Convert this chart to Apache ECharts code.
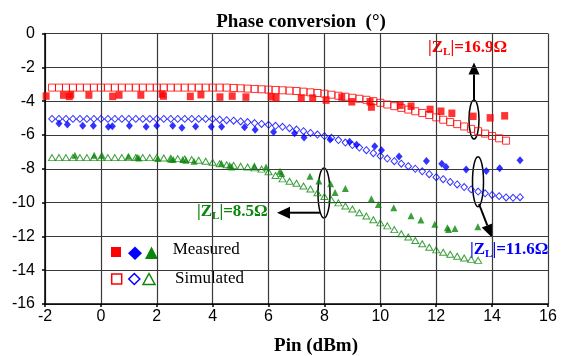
<!DOCTYPE html>
<html>
<head>
<meta charset="utf-8">
<script src="https://cdn.jsdelivr.net/npm/echarts@6/dist/echarts.min.js"></script>
<style>html,body{margin:0;padding:0;background:#fff}#c{width:564px;height:356px}</style>
</head>
<body>
<div id="c"></div>
<script>
// ---- data ----
var xTicks = [-2, 0, 2, 4, 6, 8, 10, 12, 14, 16];
var yTicks = [0, -2, -4, -6, -8, -10, -12, -14, -16];

var simX = [-1.75,-1.5,-1.25,-1,-0.75,-0.5,-0.25,0,0.25,0.5,0.75,1,1.25,1.5,1.75,2,2.25,2.5,2.75,3,3.25,3.5,3.75,4,
  4.25,4.5,4.75,5,5.25,5.5,5.75,6,6.25,6.5,6.75,7,7.25,7.5,7.75,8,8.25,8.5,8.75,9,9.25,9.5,9.75,10,10.25,10.5,10.75,
  11,11.25,11.5,11.75,12,12.25,12.5,12.75,13,13.25,13.5,13.75,14,14.25,14.5,14.75,15];

var simRed = [-3.2,-3.2,-3.2,-3.2,-3.2,-3.2,-3.2,-3.2,-3.2,-3.2,-3.2,-3.2,-3.2,-3.2,-3.2,-3.2,-3.2,-3.2,-3.2,-3.2,-3.2,-3.2,-3.2,-3.2,
  -3.2,-3.2,-3.22,-3.24,-3.26,-3.28,-3.3,-3.32,-3.34,-3.36,-3.38,-3.4,-3.44,-3.48,-3.52,-3.56,-3.62,-3.68,-3.74,-3.8,-3.86,-3.92,-4.0,
  -4.1,-4.2,-4.3,-4.4,-4.5,-4.6,-4.7,-4.82,-4.96,-5.1,-5.24,-5.36,-5.5,-5.64,-5.78,-5.92,-6.06,-6.2,-6.34];

var simBlue = [-5.05,-5.05,-5.05,-5.05,-5.05,-5.05,-5.05,-5.05,-5.05,-5.05,-5.05,-5.05,-5.05,-5.05,-5.05,-5.05,-5.05,-5.05,-5.05,-5.05,-5.05,-5.05,-5.05,-5.05,
  -5.1,-5.13,-5.16,-5.2,-5.24,-5.3,-5.35,-5.4,-5.46,-5.52,-5.6,-5.68,-5.78,-5.88,-5.98,-6.07,-6.17,-6.3,-6.45,-6.6,-6.75,-6.9,-7.08,
  -7.25,-7.4,-7.55,-7.7,-7.85,-8.0,-8.15,-8.32,-8.5,-8.62,-8.78,-8.93,-9.08,-9.22,-9.35,-9.45,-9.55,-9.62,-9.7,-9.72,-9.68];

var simGreen = [-7.34,-7.34,-7.34,-7.34,-7.34,-7.34,-7.34,-7.34,-7.34,-7.34,-7.34,-7.34,-7.34,-7.34,-7.34,-7.34,
  -7.36,-7.38,-7.4,-7.42,-7.46,-7.5,-7.56,-7.62,-7.7,-7.76,-7.8,-7.85,-7.9,-7.95,-8.02,-8.18,-8.4,-8.6,-8.74,-8.86,-9.02,-9.2,
  -9.42,-9.64,-9.84,-10.02,-10.2,-10.38,-10.6,-10.8,-11.02,-11.2,-11.38,-11.6,-11.84,-12.04,-12.24,-12.44,-12.64,-12.8,-12.94,
  -13.06,-13.18,-13.28,-13.36,-13.42];

var measRedX = [-1.96,-1.34,-1.13,-1.08,-0.43,0.42,0.65,1.43,2.19,2.24,3.2,3.58,4.26,4.7,5.19,6.09,6.27,7.17,7.58,8.06,8.62,8.98,9.63,9.68,10.71,11.1,11.78,12.17,12.56,13.32,13.93,14.45];
var measRedY = [-3.7,-3.64,-3.72,-3.62,-3.64,-3.72,-3.64,-3.64,-3.58,-3.7,-3.72,-3.62,-3.76,-3.7,-3.76,-3.74,-3.8,-3.82,-3.82,-3.94,-3.76,-4.04,-4.04,-4.35,-4.24,-4.3,-4.49,-4.6,-4.72,-4.9,-4.99,-4.87];

var measBlueX = [-1.5,-1.2,-0.65,-0.27,0.27,0.41,1.02,1.62,2.0,2.57,2.9,3.39,3.95,4.32,5.14,5.52,6.18,6.93,7.27,8.2,8.9,9.15,9.8,10.04,10.67,11.65,12.2,12.35,13.07,13.79,14.27,15.0];
var measBlueY = [-5.32,-5.38,-5.46,-5.46,-5.52,-5.48,-5.46,-5.52,-5.46,-5.46,-5.58,-5.5,-5.52,-5.52,-5.54,-5.7,-5.82,-5.9,-6.15,-6.27,-6.41,-6.58,-6.67,-6.9,-7.28,-7.54,-7.71,-7.89,-8.05,-8.14,-7.97,-7.5];

var measGreenX = [-0.93,-0.24,0.04,0.98,1.3,1.36,2.03,2.5,2.59,2.93,3.04,3.33,4.31,4.61,4.68,5.49,5.91,6.41,6.47,7.48,7.8,8.22,8.38,8.75,9.68,9.93,10.48,11.1,11.45,11.95,12.4,12.44,12.67,13.49];
var measGreenY = [-7.2,-7.2,-7.2,-7.26,-7.32,-7.36,-7.4,-7.44,-7.46,-7.46,-7.5,-7.56,-7.68,-7.79,-7.89,-7.82,-7.89,-8.15,-8.28,-8.44,-8.72,-8.88,-9.4,-9.17,-9.77,-10.11,-10.31,-10.78,-11.03,-11.29,-11.49,-11.6,-11.54,-11.43];

// ---- build ----
function zip(xs, ys) { var out = []; for (var i = 0; i < ys.length; i++) out.push([xs[i], ys[i]]); return out; }

var RED = '#ff0000', BLUE = '#0000ff', GREEN = '#0a870a';
var SERIF = '"Liberation Serif", "Times New Roman", serif';
var SANS = '"Liberation Sans", Arial, sans-serif';

function openStyle(c) { return { color: 'transparent', borderColor: c, borderWidth: 1 }; }

function arrow(x1, y1, x2, y2, color, hl, hw) {
  var dx = x2 - x1, dy = y2 - y1, L = Math.sqrt(dx * dx + dy * dy);
  var ux = dx / L, uy = dy / L, px = -uy, py = ux;
  var bx = x2 - ux * hl, by = y2 - uy * hl;
  return [
    { type: 'line', silent: true, shape: { x1: x1, y1: y1, x2: bx, y2: by }, style: { stroke: color, lineWidth: 2 } },
    { type: 'polygon', silent: true, shape: { points: [[x2, y2], [bx + px * hw, by + py * hw], [bx - px * hw, by - py * hw]] }, style: { fill: color } }
  ];
}

function zlabel(x, y, val, color) {
  return {
    type: 'text', silent: true, x: x, y: y,
    style: {
      text: '{a||Z}{s|L}{a||=' + val + 'Ω}',
      verticalAlign: 'middle', align: 'left',
      rich: {
        a: { fontFamily: SERIF, fontWeight: 'bold', fontSize: 17, lineHeight: 20, fill: color, color: color },
        s: { fontFamily: SERIF, fontWeight: 'bold', fontSize: 11, lineHeight: 11, verticalAlign: 'bottom', fill: color, color: color }
      }
    }
  };
}

function ellipse(cx, cy, rx, ry) {
  return { type: 'ellipse', silent: true, shape: { cx: cx, cy: cy, rx: rx, ry: ry }, style: { fill: 'none', stroke: '#000', lineWidth: 1.5 } };
}

var graphics = [];
graphics.push(ellipse(474, 119.5, 5, 19.5));
graphics = graphics.concat(arrow(474, 100, 474, 62.5, '#000', 12, 5.5));
graphics.push(zlabel(428, 48, '16.9', RED));
graphics.push(ellipse(478, 181.7, 5.5, 25));
graphics = graphics.concat(arrow(479, 204, 492, 237.5, '#000', 13, 6));
graphics.push(zlabel(470, 250, '11.6', BLUE));
graphics.push(ellipse(324, 193, 6, 25));
graphics = graphics.concat(arrow(320, 212.7, 277, 212.7, '#000', 13, 6));
graphics.push(zlabel(197, 212, '8.5', GREEN));
// legend
graphics.push({ type: 'rect', silent: true, shape: { x: 111, y: 247, width: 10, height: 10 }, style: { fill: RED } });
graphics.push({ type: 'polygon', silent: true, shape: { points: [[135, 246.5], [142, 253.3], [135, 260], [128, 253.3]] }, style: { fill: BLUE } });
graphics.push({ type: 'polygon', silent: true, shape: { points: [[151.5, 246.5], [158, 259], [145, 259]] }, style: { fill: GREEN } });
graphics.push({ type: 'rect', silent: true, shape: { x: 111.7, y: 274, width: 10, height: 10 }, style: { fill: 'none', stroke: RED, lineWidth: 1.5 } });
graphics.push({ type: 'polygon', silent: true, shape: { points: [[134.3, 273.5], [139.8, 279], [134.3, 284.5], [128.8, 279]] }, style: { fill: 'none', stroke: BLUE, lineWidth: 1.5 } });
graphics.push({ type: 'polygon', silent: true, shape: { points: [[149, 273.5], [155, 284.5], [143, 284.5]] }, style: { fill: 'none', stroke: GREEN, lineWidth: 1.5 } });
graphics.push({ type: 'text', silent: true, x: 172.7, y: 250, style: { text: 'Measured', font: '17px ' + SERIF, fill: '#000', verticalAlign: 'middle' } });
graphics.push({ type: 'text', silent: true, x: 175, y: 279, style: { text: 'Simulated', font: '17px ' + SERIF, fill: '#000', verticalAlign: 'middle' } });
// axis name
graphics.push({ type: 'text', silent: true, x: 316, y: 346, style: { text: 'Pin (dBm)', font: 'bold 19px ' + SERIF, fill: '#000', align: 'center', verticalAlign: 'middle' } });

var chart = echarts.init(document.getElementById('c'), null, { renderer: 'canvas' });
chart.setOption({
  animation: false,
  backgroundColor: '#fff',
  title: {
    text: 'Phase conversion  (°)', left: 296, top: 8, textAlign: 'center',
    textStyle: { fontFamily: SERIF, fontWeight: 'bold', fontSize: 19, color: '#000' }
  },
  grid: { left: 45, right: 16, top: 33.5, bottom: 52, containLabel: false, show: false },
  xAxis: {
    type: 'value', min: xTicks[0], max: xTicks[xTicks.length - 1], interval: 2,
    axisLine: { onZero: false, lineStyle: { color: '#000', width: 1.5 } },
    axisTick: { show: true, length: 3, lineStyle: { color: '#000', width: 1.5 } },
    axisLabel: { fontFamily: SANS, fontSize: 16, color: '#000', margin: 5, showMinLabel: true, showMaxLabel: true },
    splitLine: { show: true, lineStyle: { color: '#3a3a3a', width: 1.2 } }
  },
  yAxis: {
    type: 'value', min: yTicks[yTicks.length - 1], max: yTicks[0], interval: 2,
    axisLine: { onZero: false, lineStyle: { color: '#000', width: 1.5 } },
    axisTick: { show: true, length: 3, lineStyle: { color: '#000', width: 1.5 } },
    axisLabel: { fontFamily: SANS, fontSize: 16, color: '#000', margin: 10 },
    splitLine: { show: true, lineStyle: { color: '#3a3a3a', width: 1.2 } }
  },
  series: [
    { type: 'scatter', name: 'simRed', data: zip(simX, simRed), symbol: 'rect', symbolSize: [7, 7], itemStyle: openStyle(RED) },
    { type: 'scatter', name: 'simBlue', data: zip(simX, simBlue), symbol: 'diamond', symbolSize: [6.5, 7], itemStyle: openStyle(BLUE) },
    { type: 'scatter', name: 'simGreen', data: zip(simX, simGreen), symbol: 'triangle', symbolSize: [7, 6], itemStyle: openStyle(GREEN) },
    { type: 'scatter', name: 'measRed', data: zip(measRedX, measRedY), symbol: 'rect', symbolSize: [7, 7.5], itemStyle: { color: RED } },
    { type: 'scatter', name: 'measBlue', data: zip(measBlueX, measBlueY), symbol: 'diamond', symbolSize: [7, 8], itemStyle: { color: BLUE } },
    { type: 'scatter', name: 'measGreen', data: zip(measGreenX, measGreenY), symbol: 'triangle', symbolSize: [7, 7], itemStyle: { color: GREEN } }
  ],
  graphic: graphics
});
</script>
</body>
</html>
